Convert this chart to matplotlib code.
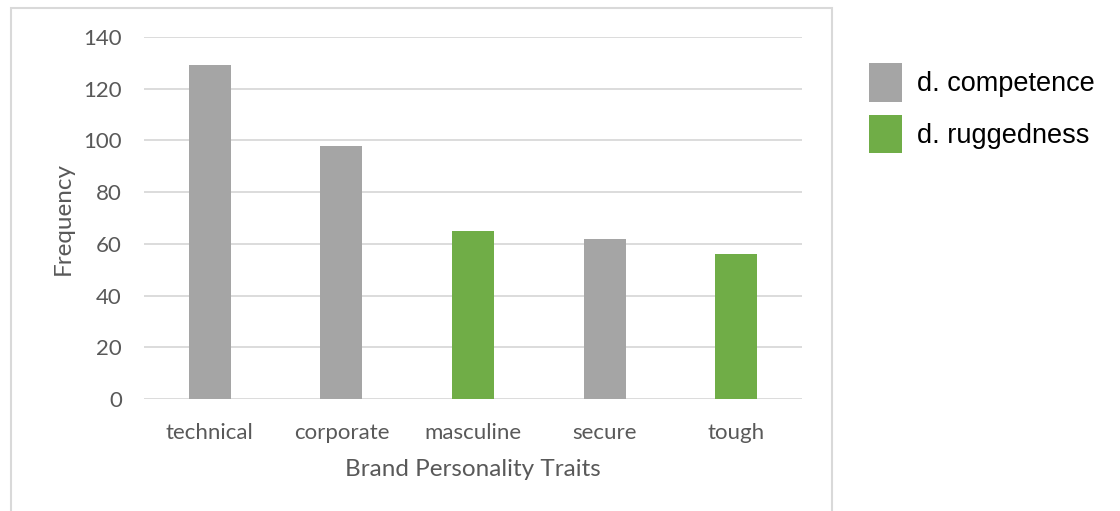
"""Bar chart of brand personality trait frequencies, coloured by dimension."""

import matplotlib.pyplot as plt
from matplotlib.patches import Patch, Rectangle

traits = ['technical', 'corporate', 'masculine', 'secure', 'tough']
frequency = [129, 98, 65, 62, 56]
dimension = ['d. competence', 'd. competence', 'd. ruggedness',
             'd. competence', 'd. ruggedness']
dimension_names = ['d. competence', 'd. ruggedness']
y_ticks = [0, 20, 40, 60, 80, 100, 120, 140]

colors = {'d. competence': '#a5a5a5', 'd. ruggedness': '#70ad47'}
grid_color = '#d9d9d9'
text_color = '#595959'
font = 'Lato'

fig = plt.figure(figsize=(11.2, 5.11), dpi=100)
fig.set_facecolor('white')

# Outer chart frame (bottom edge runs off the figure)
fig.patches.append(Rectangle((11 / 1120, -0.05), (832 - 11) / 1120,
                             1.05 - 8 / 511, transform=fig.transFigure,
                             fill=False, edgecolor=grid_color, lw=1.5))

ax = fig.add_axes([144 / 1120, 1 - 399 / 511, 658 / 1120, 362 / 511])

x = range(len(traits))
ax.bar(x, frequency, width=0.32,
       color=[colors[d] for d in dimension], zorder=3)

ax.set_xlim(-0.5, len(traits) - 0.5)
ax.set_ylim(0, 140)
ax.set_yticks(y_ticks)
ax.set_xticks(list(x))
ax.set_xticklabels(traits)

for spine in ax.spines.values():
    spine.set_visible(False)
ax.yaxis.grid(True, color=grid_color, lw=1.3, zorder=0)
ax.set_axisbelow(True)
ax.tick_params(length=0, labelsize=16, labelcolor=text_color)
ax.tick_params(axis='x', pad=17)
ax.tick_params(axis='y', pad=16)
for lab in ax.get_xticklabels() + ax.get_yticklabels():
    lab.set_fontfamily(font)

ax.set_xlabel('Brand Personality Traits', fontsize=17.5, color=text_color,
              family=font, labelpad=12)
ax.set_ylabel('Frequency', fontsize=17.5, color=text_color,
              family=font, labelpad=7)

handles = [Patch(facecolor=colors[d], edgecolor='none') for d in dimension_names]
fig.legend(handles, dimension_names, loc='upper left',
           bbox_to_anchor=(864 / 1120, 1 - 58 / 511),
           frameon=False, borderaxespad=0, borderpad=0.2,
           handlelength=1.22, handleheight=1.8,
           handletextpad=0.55, labelspacing=0.48,
           prop={'family': 'Liberation Sans', 'size': 19.5})

fig.savefig('out.png', dpi=100, facecolor='white')
